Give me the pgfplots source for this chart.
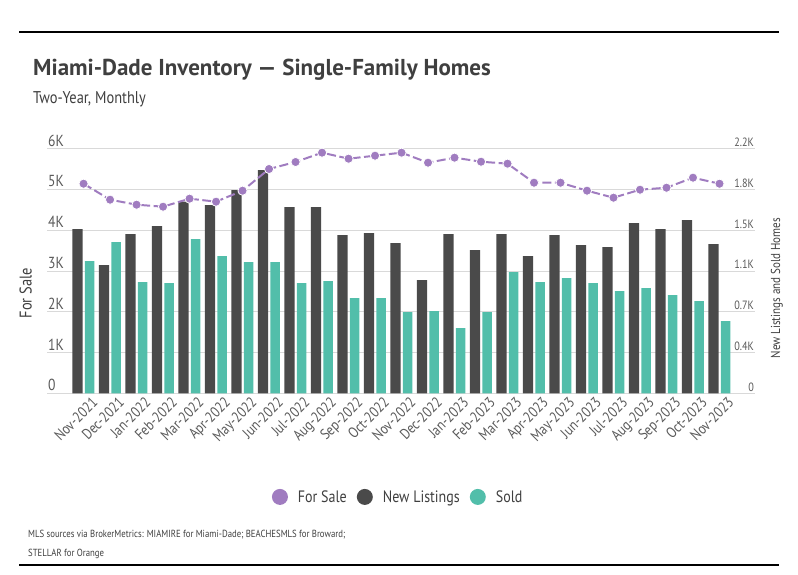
\documentclass[border=0pt]{standalone}
\usepackage{fontspec}
\setmainfont{PT Sans}
\newfontfamily\narrow{PT Sans}[FakeStretch=0.85]
\usepackage{pgfplots}
\pgfplotsset{compat=1.18}
\definecolor{forsale}{HTML}{A07CC0}
\definecolor{newlist}{HTML}{4A4A4A}
\definecolor{sold}{HTML}{52BEAA}
\definecolor{gridc}{HTML}{D9D9D9}
\definecolor{titlec}{HTML}{3F3F3F}
\definecolor{tickc}{HTML}{595959}
\begin{document}
\begin{tikzpicture}
\useasboundingbox (0bp,0bp) rectangle (798bp,575bp);
\draw[black, line width=1.2bp] (19bp,543bp) -- (779bp,543bp);
\draw[black, line width=1.2bp] (19bp,10bp) -- (779bp,10bp);
\node[anchor=base west, inner sep=0, text=titlec, font=\fontsize{23bp}{26bp}\selectfont\bfseries] at (33bp,499bp) {Miami-Dade Inventory — Single-Family Homes};
\node[anchor=base west, inner sep=0, text=titlec, font=\narrow\fontsize{17bp}{20bp}\selectfont] at (33bp,471.7bp) {Two-Year, Monthly};
\node[anchor=base west, inner sep=0, text=titlec, font=\narrow\fontsize{10.3bp}{12bp}\selectfont] at (28bp,37.3bp) {MLS sources via BrokerMetrics: MIAMIRE for Miami-Dade; BEACHESMLS for Broward;};
\node[anchor=base west, inner sep=0, text=titlec, font=\narrow\fontsize{10.3bp}{12bp}\selectfont] at (28bp,19bp) {STELLAR for Orange};

\begin{axis}[
  at={(47bp,181.5bp)}, anchor=south west,
  scale only axis, width=708bp, height=244.5bp,
  xmin=-1.38, xmax=25.34, ymin=0, ymax=2200,
  axis y line*=right, axis x line*=bottom,
  axis line style={draw=none},
  ytick={0,366.667,733.333,1100,1466.667,1833.333,2200},
  yticklabels={0,0.4K,0.7K,1.1K,1.5K,1.8K,2.2K},
  ymajorgrids, grid style={draw=gridc, line width=1bp},
  major tick length=0pt,
  yticklabel style={anchor=south east, inner sep=1bp, yshift=1bp, text=tickc, font=\narrow\fontsize{12bp}{14bp}\selectfont},
  xtick={0,...,24},
  xticklabels={Nov-2021,Dec-2021,Jan-2022,Feb-2022,Mar-2022,Apr-2022,May-2022,Jun-2022,Jul-2022,Aug-2022,Sep-2022,Oct-2022,Nov-2022,Dec-2022,Jan-2023,Feb-2023,Mar-2023,Apr-2023,May-2023,Jun-2023,Jul-2023,Aug-2023,Sep-2023,Oct-2023,Nov-2023},
  xticklabel style={rotate=45, anchor=north east, inner sep=1bp, xshift=4.5bp, yshift=-6bp, text=tickc, font=\narrow\fontsize{15bp}{16bp}\selectfont},
  ylabel={New Listings and Sold Homes},
  ylabel style={at={(axis description cs:1.031,0.431)}, anchor=center, text=titlec, font=\narrow\fontsize{13bp}{15bp}\selectfont},
]
\addplot[ybar, bar width=10.2bp, bar shift=-6.1bp, fill=newlist, draw=none] coordinates {
(0,1480) (1,1156) (2,1435) (3,1507) (4,1726) (5,1696) (6,1831) (7,2011) (8,1678) (9,1678) (10,1426) (11,1444) (12,1354) (13,1021) (14,1435) (15,1291) (16,1435) (17,1237) (18,1426) (19,1336) (20,1318) (21,1534) (22,1480) (23,1561) (24,1345)};
\addplot[ybar, bar width=9.6bp, bar shift=6.1bp, fill=sold, draw=none] coordinates {
(0,1192) (1,1363) (2,1003) (3,994) (4,1390) (5,1237) (6,1183) (7,1183) (8,994) (9,1012) (10,859) (11,859) (12,733) (13,742) (14,589) (15,733) (16,1093) (17,1003) (18,1039) (19,994) (20,922) (21,949) (22,886) (23,832) (24,652)};
\end{axis}

\begin{axis}[
  at={(47bp,181.5bp)}, anchor=south west,
  scale only axis, width=708bp, height=244.5bp,
  xmin=-1.38, xmax=25.34, ymin=0, ymax=6000,
  axis y line*=left, hide x axis,
  axis line style={draw=none},
  ytick={0,1000,...,6000},
  yticklabels={0,1K,2K,3K,4K,5K,6K},
  major tick length=0pt,
  yticklabel style={anchor=south west, inner sep=1bp, yshift=1.5bp, text=tickc, font=\narrow\fontsize{16bp}{18bp}\selectfont},
  ylabel={For Sale},
  ylabel style={at={(axis description cs:-0.03,0.41)}, anchor=center, text=titlec, font=\narrow\fontsize{17bp}{19bp}\selectfont},
  legend style={at={(axis description cs:0.496,-0.423)}, anchor=center, draw=none, fill=none, legend columns=-1, font=\narrow\fontsize{16.5bp}{18bp}\selectfont, text=titlec, /tikz/every even column/.append style={column sep=8bp}},
  legend cell align=left,
]
\addplot[forsale, line width=2bp, dash pattern=on 9bp off 3.5bp, mark=*, mark size=4.6bp, mark options={solid, fill=forsale, draw=white, line width=0.8bp}, forget plot] coordinates {
(0,5148) (1,4756) (2,4633) (3,4584) (4,4781) (5,4707) (6,4977) (7,5509) (8,5681) (9,5910) (10,5762) (11,5836) (12,5910) (13,5664) (14,5787) (15,5688) (16,5640) (17,5173) (18,5173) (19,4977) (20,4805) (21,5001) (22,5050) (23,5296) (24,5148)};
\addlegendimage{legend image code/.code={\fill[forsale, draw=none] (0bp,0bp) circle (8bp); \path[draw=none, fill=none] (0bp,-1bp) rectangle (16bp,1bp);}}
\addlegendentry{For Sale}
\addlegendimage{legend image code/.code={\fill[newlist, draw=none] (0bp,0bp) circle (8bp); \path[draw=none, fill=none] (0bp,-1bp) rectangle (16bp,1bp);}}
\addlegendentry{New Listings}
\addlegendimage{legend image code/.code={\fill[sold, draw=none] (0bp,0bp) circle (8bp); \path[draw=none, fill=none] (0bp,-1bp) rectangle (16bp,1bp);}}
\addlegendentry{Sold}
\end{axis}
\end{tikzpicture}
\end{document}
